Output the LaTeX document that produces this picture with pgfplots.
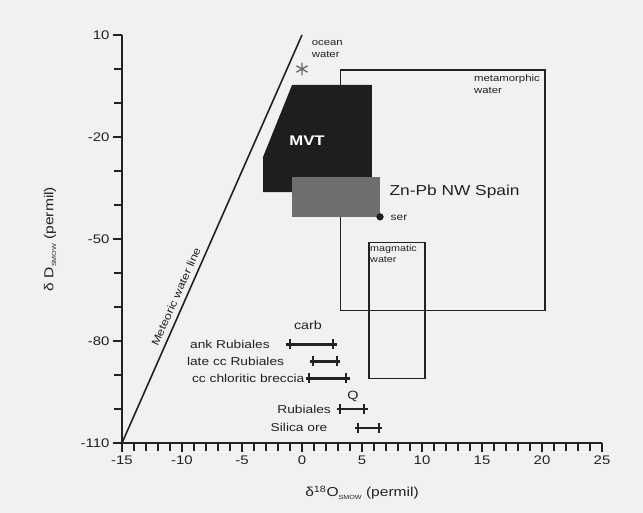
\documentclass[border=0pt]{standalone}
\usepackage{pgfplots}
\pgfplotsset{compat=1.18}
\usepackage{fontspec}
\setmainfont{Liberation Sans}[FakeStretch=1.2]
\definecolor{bg}{HTML}{F1F1F1}
\definecolor{ink}{HTML}{222222}
\definecolor{mvt}{HTML}{1E1E1E}
\definecolor{znpb}{HTML}{6E6E6E}
\newcommand{\fs}[1]{\fontsize{#1}{#1}\selectfont}

\begin{document}
\begin{tikzpicture}
\fill[bg] (0,0) rectangle (643bp,513bp);
\begin{axis}[
    at={(122bp,70bp)}, anchor=south west,
    scale only axis, width=480bp, height=408bp,
    xmin=-15, xmax=25, ymin=-110, ymax=10,
    axis lines=left,
    axis line style={-, line width=1.6pt, ink},
    tick align=outside,
    major tick length=9bp, minor tick length=8bp,
    tick style={line width=1.3pt, ink},
    xtick={-15,-10,...,25}, minor x tick num=4,
    ytick={-110,-80,...,10}, minor y tick num=2,
    ticklabel style={font=\fs{12.5}, text=ink},
    /pgf/number format/assume math mode=true,
    clip=false,
]
% metamorphic and magmatic water boxes
\addplot[ink, line width=1.3pt] coordinates {(3.2,-0.3) (20.25,-0.3) (20.25,-71) (3.2,-71)} -- cycle;
\addplot[ink, line width=1.3pt] coordinates {(5.58,-51) (10.25,-51) (10.25,-91) (5.58,-91)} -- cycle;
% MVT field
\addplot[draw=none, fill=mvt] coordinates {(-0.83,-4.7) (5.83,-4.7) (5.83,-36.2) (-3.25,-36.2) (-3.25,-25.9)} -- cycle;
% Zn-Pb NW Spain field
\addplot[draw=none, fill=znpb] coordinates {(-0.83,-31.8) (6.5,-31.8) (6.5,-43.5) (-0.83,-43.5)} -- cycle;
\addplot[only marks, mark=*, mark size=3.4, mark options={fill=mvt, draw=mvt}] coordinates {(6.5,-43.5)};
% meteoric water line
\addplot[ink, line width=1.6pt] coordinates {(-15,-110) (0,10)};
% ocean water
\addplot[only marks, mark=asterisk, mark size=6.5, mark options={gray!80!black, line width=1.3pt}] coordinates {(0,0)};

% carbonate and quartz ranges
\pgfplotsset{rng/.style={ink, line width=2.4pt}, cap/.style={only marks, mark=|, mark size=5, mark options={line width=2pt, ink}}}
\addplot[rng] coordinates {(-1.33,-81) (2.9,-81)};
\addplot[cap] coordinates {(-1.0,-81) (2.6,-81)};
\addplot[rng] coordinates {(0.67,-86) (3.17,-86)};
\addplot[cap] coordinates {(0.95,-86) (2.9,-86)};
\addplot[rng] coordinates {(0.33,-91) (4.0,-91)};
\addplot[cap] coordinates {(0.6,-91) (3.7,-91)};
\addplot[rng] coordinates {(2.9,-100) (5.5,-100)};
\addplot[cap] coordinates {(3.2,-100) (5.2,-100)};
\addplot[rng] coordinates {(4.4,-105.5) (6.7,-105.5)};
\addplot[cap] coordinates {(4.7,-105.5) (6.4,-105.5)};

% labels
\node[font=\fs{11.5}, text=ink, anchor=east] at (axis cs:-2.4,-81) {ank Rubiales};
\node[font=\fs{11.5}, text=ink, anchor=east] at (axis cs:-1.2,-86) {late cc Rubiales};
\node[font=\fs{11.5}, text=ink, anchor=east, inner xsep=1bp] at (axis cs:0.3,-91) {cc chloritic breccia};
\node[font=\fs{11.5}, text=ink, anchor=east] at (axis cs:2.7,-100) {Rubiales};
\node[font=\fs{11.5}, text=ink, anchor=east] at (axis cs:2.4,-105.5) {Silica ore};
\node[font=\fs{12}, text=ink] at (axis cs:0.5,-75.3) {carb};
\node[font=\fs{12}, text=ink] at (axis cs:4.25,-96.2) {Q};
\node[font=\fs{14.5}, text=ink, anchor=west] at (axis cs:7.0,-36.2) {Zn-Pb NW Spain};
\node[font=\fs{10}, text=ink, anchor=west] at (axis cs:7.1,-43.8) {ser};
\node[font=\bfseries\fs{14}, text=white] at (axis cs:0.42,-21.2) {MVT};
\node[font=\fs{10.6}, text=ink, rotate=66] at (axis cs:-10.5,-67) {Meteoric water line};
\node[font=\fontsize{9.5}{12}\selectfont, text=ink, anchor=north west, align=left, inner sep=0pt] at (axis cs:0.8,8.6) {ocean\\water};
\node[font=\fontsize{9.5}{12}\selectfont, text=ink, anchor=north west, align=left, inner sep=0pt] at (axis cs:14.33,-1.5) {metamorphic\\water};
\node[font=\fontsize{9}{11}\selectfont, text=ink, anchor=north west, align=left, inner sep=0pt] at (axis cs:5.67,-51.6) {magmatic\\water};

% axis titles
\node[yshift=-50bp, font=\fs{13}, text=ink] at (axis cs:5,-110) {δ\textsuperscript{18}O\raisebox{-0.4ex}{\fs{6}SMOW} (permil)};
\node[xshift=-72bp, rotate=90, font=\fs{13}, text=ink] at (axis cs:-15,-50) {δ D\raisebox{-0.4ex}{\fs{6}SMOW} (permil)};
\end{axis}
\pgfresetboundingbox
\path (0,0) rectangle (643bp,513bp);
\end{tikzpicture}
\end{document}
